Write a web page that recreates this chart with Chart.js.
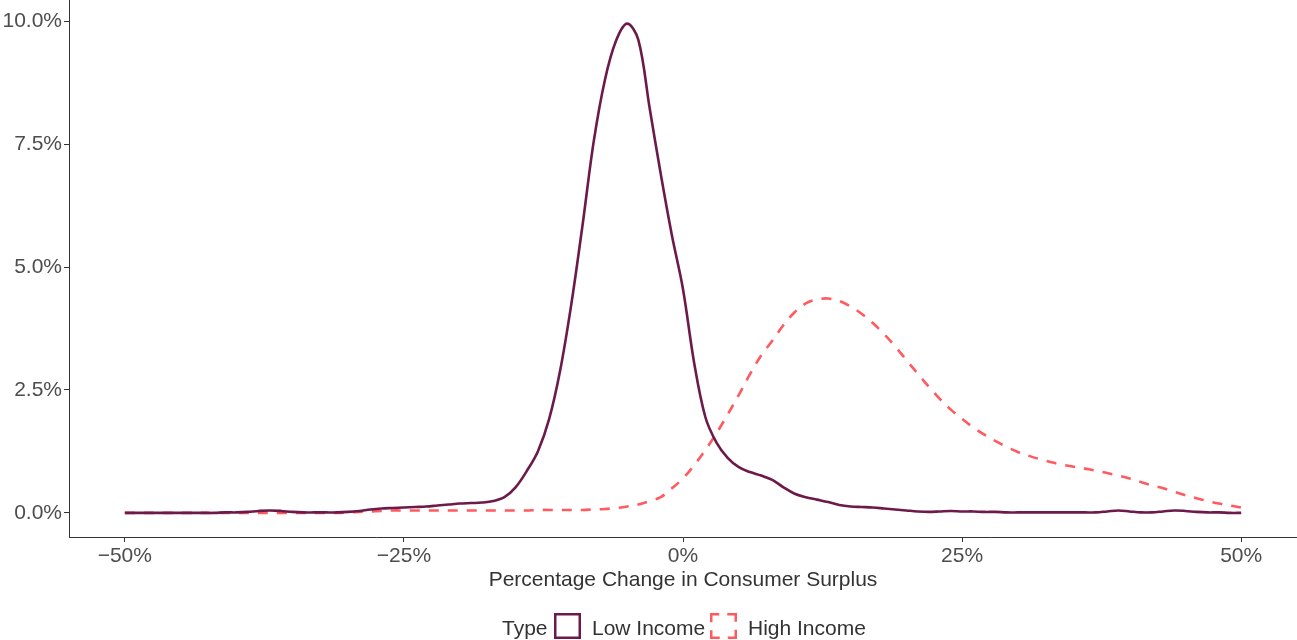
<!DOCTYPE html>
<html>
<head>
<meta charset="utf-8">
<script src="https://cdn.jsdelivr.net/npm/chart.js@4.4.1/dist/chart.umd.min.js"></script>
<style>
  html, body { margin: 0; padding: 0; background: #ffffff; }
  #wrap { position: relative; width: 1297px; height: 640px; overflow: hidden; }
  #c { position: absolute; left: 0; top: 0; }
  .lg { position: absolute; font-family: "Liberation Sans", Arial, sans-serif; font-size: 21px; color: #333333; line-height: 26px; top: 615px; white-space: nowrap; }
  .box { position: absolute; top: 613px; width: 27px; height: 26px; }
</style>
</head>
<body>
<div id="wrap">
  <canvas id="c" width="1297" height="640"></canvas>
  <div class="lg" style="left:502px;">Type</div>
  <svg class="box" style="left:554px;" width="27" height="26" viewBox="0 0 27 26">
    <rect x="1.25" y="1.25" width="24.5" height="23.5" fill="#ffffff" stroke="#6b1a49" stroke-width="2.5"/>
  </svg>
  <div class="lg" style="left:592px;">Low Income</div>
  <svg class="box" style="left:710px;" width="27" height="26" viewBox="0 0 27 26">
    <rect x="1.25" y="1.25" width="24.5" height="23.5" fill="#ffffff" stroke="#ff5a5f" stroke-width="2.5" stroke-dasharray="16 8" stroke-dashoffset="8"/>
  </svg>
  <div class="lg" style="left:748px;">High Income</div>
</div>
<script>
// Percentage change in consumer surplus (x, %)
const xValues = [
  -50,-49,-48,-47,-46,-45,-44,-43,-42,-41,-40,-39,-38,-37,-36,-35,-34,-33,-32,-31,
  -30,-29,-28,-27,-26,-25,-24,-23,-22,-21,-20,-19,-18,-17,-16,-15,-14,-13,-12,-11,
  -10,-9,-8,-7,-6,-5,-4,-3,-2,-1,0,1,2,3,4,5,6,7,8,9,
  10,11,12,13,14,15,16,17,18,19,20,21,22,23,24,25,26,27,28,29,
  30,31,32,33,34,35,36,37,38,39,40,41,42,43,44,45,46,47,48,49,50
];
// Density (%) – Low Income
const lowIncome = [
  0,0,0,0,0,0,0,0,0,0.01,0.01,0.02,0.04,0.05,0.04,0.02,0.01,0.01,0.01,0.01,
  0.02,0.04,0.07,0.09,0.10,0.11,0.12,0.13,0.15,0.17,0.19,0.20,0.21,0.24,0.32,0.52,0.85,1.25,1.90,2.90,
  4.25,5.85,7.55,8.80,9.60,9.95,9.62,8.25,6.90,5.65,4.55,3.05,1.95,1.43,1.12,0.93,0.83,0.76,0.67,0.52,
  0.39,0.32,0.27,0.22,0.16,0.13,0.12,0.11,0.09,0.07,0.05,0.03,0.02,0.03,0.04,0.03,0.03,0.02,0.02,0.01,
  0.01,0.01,0.01,0.01,0.01,0.01,0.01,0.01,0.03,0.05,0.03,0.01,0.01,0.03,0.05,0.04,0.02,0.01,0.01,0,0
];
// Density (%) – High Income
const highIncome = [
  0,0,0,0,0,0,0,0,0,0,0,0,0,0,0,0,0,0,0,0,
  0.01,0.02,0.03,0.04,0.05,0.05,0.05,0.05,0.05,0.05,0.05,0.05,0.05,0.05,0.05,0.05,0.05,0.06,0.06,0.06,
  0.06,0.06,0.07,0.08,0.10,0.13,0.17,0.24,0.32,0.50,0.70,0.97,1.28,1.62,2.00,2.40,2.82,3.20,3.50,3.82,
  4.08,4.26,4.34,4.36,4.31,4.20,4.05,3.86,3.64,3.39,3.11,2.84,2.57,2.32,2.10,1.91,1.74,1.59,1.46,1.34,
  1.24,1.16,1.09,1.03,0.98,0.94,0.90,0.86,0.81,0.76,0.70,0.63,0.56,0.50,0.43,0.36,0.30,0.24,0.19,0.15,0.11
];
const xTicks = [-50, -25, 0, 25, 50];
const yTicks = [0, 2.5, 5, 7.5, 10];
const seriesNames = ['Low Income', 'High Income'];

const FONT = '"Liberation Sans", Arial, sans-serif';
const toPts = arr => arr.map((v, i) => ({ x: xValues[i], y: v }));

new Chart(document.getElementById('c'), {
  type: 'line',
  data: {
    datasets: [
      {
        label: seriesNames[0],
        data: toPts(lowIncome),
        borderColor: '#6b1a49',
        borderWidth: 2.6,
        pointRadius: 0,
        fill: false,
        tension: 0.35
      },
      {
        label: seriesNames[1],
        data: toPts(highIncome),
        borderColor: '#ff5a5f',
        borderWidth: 2.6,
        borderDash: [10, 9],
        pointRadius: 0,
        fill: false,
        tension: 0.35
      }
    ]
  },
  options: {
    responsive: false,
    animation: false,
    devicePixelRatio: 1,
    layout: { padding: { top: 0, right: 0, bottom: 47, left: 0 } },
    plugins: { legend: { display: false }, tooltip: { enabled: false } },
    scales: {
      x: {
        type: 'linear',
        min: -55,
        max: 55,
        afterBuildTicks: s => { s.ticks = xTicks.map(v => ({ value: v })); },
        afterFit: s => { s.height = 56; s.paddingLeft = 0; s.paddingRight = 0; },
        grid: { display: true, drawOnChartArea: false, drawTicks: true, tickLength: 5, color: '#333333', lineWidth: 1 },
        border: { display: true, color: '#333333', width: 1 },
        ticks: {
          padding: 2,
          maxRotation: 0,
          autoSkip: false,
          color: '#4d4d4d',
          font: { family: FONT, size: 21 },
          callback: v => (v < 0 ? '\u2212' : '') + Math.abs(v) + '%'
        },
        title: {
          display: true,
          text: 'Percentage Change in Consumer Surplus',
          color: '#333333',
          font: { family: FONT, size: 21 },
          padding: { top: 0, bottom: 0 }
        }
      },
      y: {
        type: 'linear',
        min: -0.49,
        max: 10.43,
        afterBuildTicks: s => { s.ticks = yTicks.map(v => ({ value: v })); },
        afterFit: s => { s.width = 69; s.paddingTop = 0; s.paddingBottom = 0; },
        grid: { display: true, drawOnChartArea: false, drawTicks: true, tickLength: 5, color: '#333333', lineWidth: 1 },
        border: { display: true, color: '#333333', width: 1 },
        ticks: {
          padding: 2,
          autoSkip: false,
          color: '#4d4d4d',
          font: { family: FONT, size: 21 },
          callback: v => v.toFixed(1) + '%'
        }
      }
    }
  }
});
</script>
</body>
</html>
